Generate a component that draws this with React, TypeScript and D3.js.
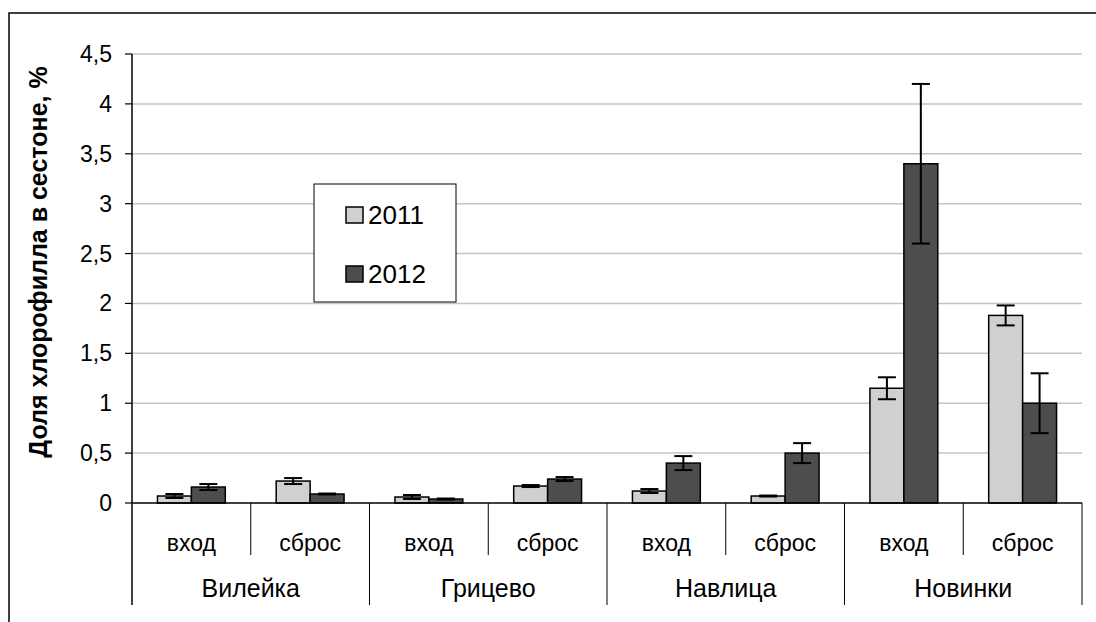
import * as d3 from "d3";

const groups = ["Вилейка", "Грицево", "Навлица", "Новинки"];
const subs = ["вход", "сброс"];
const years = ["2011", "2012"];
const values2011 = [0.07, 0.22, 0.06, 0.17, 0.12, 0.07, 1.15, 1.88];
const err2011 = [0.02, 0.03, 0.02, 0.01, 0.02, 0.005, 0.11, 0.1];
const values2012 = [0.16, 0.09, 0.04, 0.24, 0.4, 0.5, 3.4, 1.0];
const err2012 = [0.03, 0.005, 0.005, 0.02, 0.07, 0.1, 0.8, 0.3];
const yTitle = "Доля хлорофилла в сестоне, %";

export default function App() {
  const width = 1096;
  const height = 622;
  const left = 132;
  const right = 1082;
  const top = 54;
  const bottom = 503;

  const cats = groups.flatMap((g) => subs.map((s) => g + "|" + s));
  const x = d3.scaleBand().domain(cats).range([left, right]).paddingInner(0).paddingOuter(0);
  const xs = d3.scaleBand().domain(years).range([0, x.bandwidth()]).paddingInner(0).paddingOuter(0.75);
  const y = d3.scaleLinear().domain([0, 4.5]).range([bottom, top]);
  const color = d3.scaleOrdinal<string, string>().domain(years).range(["#d0d0d0", "#4d4d4d"]);
  const fmt = (v: number) => d3.format("~g")(v).replace(".", ",");

  const series = [
    { year: "2011", vals: values2011, errs: err2011 },
    { year: "2012", vals: values2012, errs: err2012 },
  ];
  const font = "Arial, 'Liberation Sans', sans-serif";
  const groupW = x.bandwidth() * subs.length;

  return (
    <svg width={width} height={height} style={{ position: "absolute", left: 0, top: 0, background: "#fff" }} fontFamily={font}>
      <rect x={9} y={13} width={1200} height={700} fill="#fff" stroke="#000" strokeWidth={1.5} />

      {/* grid + y ticks */}
      {y.ticks(9).map((t) => (
        <g key={t}>
          {t > 0 && <line x1={left} x2={right} y1={y(t)} y2={y(t)} stroke="#c4c4c4" strokeWidth={1.5} />}
          <line x1={left - 7} x2={left} y1={y(t)} y2={y(t)} stroke="#000" strokeWidth={1.2} />
          <text x={112} y={y(t)} dy="0.35em" textAnchor="end" fontSize={23}>{fmt(t)}</text>
        </g>
      ))}

      {/* bars */}
      {series.map((s) =>
        cats.map((c, i) => (
          <rect key={s.year + c} x={x(c)! + xs(s.year)!} y={y(s.vals[i])} width={xs.bandwidth()}
            height={y(0) - y(s.vals[i])} fill={color(s.year)} stroke="#000" strokeWidth={1.5} />
        ))
      )}

      {/* error bars */}
      {series.map((s) =>
        cats.map((c, i) => {
          const cx = x(c)! + xs(s.year)! + xs.bandwidth() / 2;
          const y1 = y(s.vals[i] + s.errs[i]);
          const y2 = y(s.vals[i] - s.errs[i]);
          return (
            <g key={"e" + s.year + c} stroke="#000" strokeWidth={2}>
              <line x1={cx} x2={cx} y1={y1} y2={y2} />
              <line x1={cx - 9} x2={cx + 9} y1={y1} y2={y1} />
              <line x1={cx - 9} x2={cx + 9} y1={y2} y2={y2} />
            </g>
          );
        })
      )}

      {/* axes */}
      <line x1={left} x2={left} y1={top} y2={605} stroke="#000" strokeWidth={1.5} />
      <line x1={left} x2={right} y1={bottom} y2={bottom} stroke="#000" strokeWidth={1.5} />

      {cats.map((c, i) => (
        <g key={"l" + c}>
          {i % 2 === 1 && <line x1={x(c)!} x2={x(c)!} y1={bottom} y2={555} stroke="#000" strokeWidth={1} />}
          <text x={x(c)! + x.bandwidth() / 2} y={543} dy="0.35em" textAnchor="middle" fontSize={23}>{c.split("|")[1]}</text>
        </g>
      ))}
      {groups.map((g, i) => {
        const gx = left + i * groupW;
        return (
          <g key={g}>
            <line x1={gx + groupW} x2={gx + groupW} y1={bottom} y2={605} stroke="#000" strokeWidth={1} />
            <text x={gx + groupW / 2} y={588} dy="0.35em" textAnchor="middle" fontSize={25}>{g}</text>
          </g>
        );
      })}

      <text transform={`translate(38,262) rotate(-90)`} textAnchor="middle" dy="0.35em" fontSize={25} fontWeight="bold">{yTitle}</text>

      {/* legend */}
      <rect x={314} y={184} width={142} height={118} fill="#fff" stroke="#000" strokeWidth={1} />
      {years.map((yr, i) => (
        <g key={yr} transform={`translate(346,${207 + i * 59})`}>
          <rect width={17} height={16} fill={color(yr)} stroke="#000" strokeWidth={1.5} />
          <text x={22} y={17} fontSize={26}>{yr}</text>
        </g>
      ))}
    </svg>
  );
}
